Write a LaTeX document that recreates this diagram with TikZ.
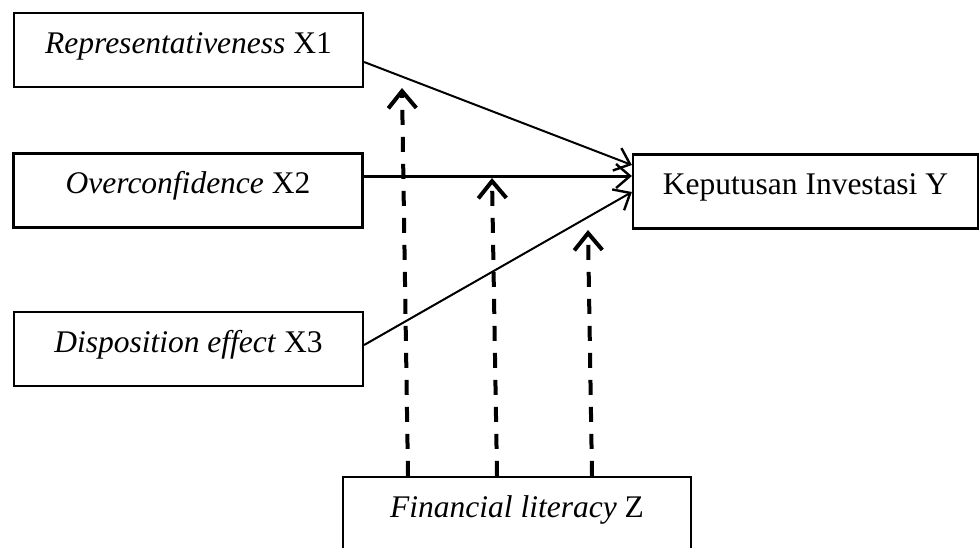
\documentclass[tikz,border=0pt]{standalone}
\usepackage{fontspec}
\setmainfont{Liberation Serif}
\usetikzlibrary{arrows.meta}

\begin{document}
\begin{tikzpicture}[x=1pt,y=-1pt,
   varbox/.style={draw,line width=2.2pt,minimum height=74pt,inner sep=0pt,
                  text height=22pt,text depth=16pt,
                  font=\fontsize{31.5}{38}\selectfont},
   link/.style={-{Straight Barb[length=14pt,width=24pt,line width=2.4pt]},line width=2pt},
   moder/.style={-{Straight Barb[length=17pt,width=28pt,line width=4pt]},line width=4pt,
                 dash pattern=on 15pt off 12pt}]
   \useasboundingbox (0,0) rectangle (979,547);
   % variabel
   \node[varbox,minimum width=349pt] (X1) at (188.5, 50.0) {\textit{Representativeness} X1};
   \node[varbox,minimum width=349pt] (X2) at (188.0,190.5) {\textit{Overconfidence} X2};
   \node[varbox,minimum width=349pt] (X3) at (188.5,349.0) {\textit{Disposition effect} X3};
   \node[varbox,minimum width=345pt] (Y)  at (805.5,191.5) {Keputusan Investasi Y};
   \node[varbox,minimum width=348pt] (Z)  at (517.0,514.0) {\textit{Financial literacy} Z};
   % pengaruh langsung
   \draw[link] (X1.east |- 0,62) -- (Y.west |- 0,165);
   \draw[link,line width=3pt] (X2.east |- 0,176) -- (Y.west |- 0,176);
   \draw[link] (X3.east |- 0,345) -- (Y.west |- 0,192);
   % moderasi
   \coordinate (m1) at (402, 88);
   \coordinate (m2) at (492,178);
   \coordinate (m3) at (588,230);
   \draw[moder] (Z.north -| 408,0) -- (m1);
   \draw[moder] (Z.north -| 497,0) -- (m2);
   \draw[moder] (Z.north -| 592,0) -- (m3);
\end{tikzpicture}
\end{document}
